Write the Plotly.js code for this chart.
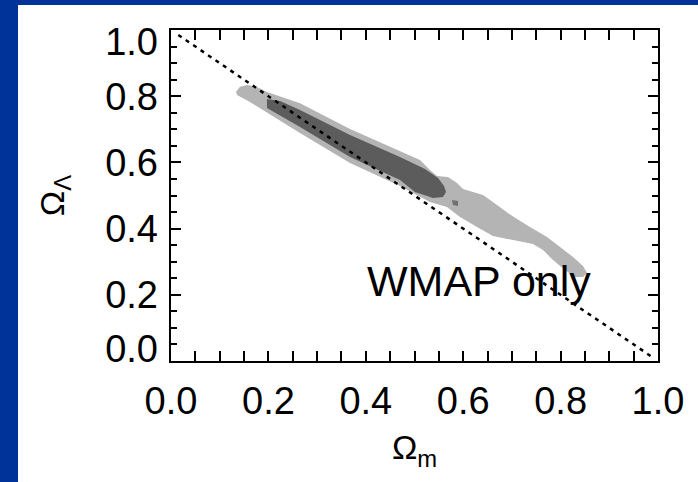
<!DOCTYPE html>
<html>
<head>
<meta charset="utf-8">
<script src="https://cdn.plot.ly/plotly-3.0.1.min.js"></script>
<style>
  html, body { margin:0; padding:0; background:#003399; width:698px; height:482px; overflow:hidden; }
  #chart { position:absolute; left:18px; top:5px; width:680px; height:477px; background:#ffffff; }
</style>
</head>
<body>
<div id="chart"></div>
<script>
// Tick labels
const xTickText = ['0.0','0.2','0.4','0.6','0.8','1.0'];
const xTickVals = [0, 0.2, 0.4, 0.6, 0.8, 1.0];
const yTickText = ['0.0','0.2','0.4','0.6','0.8','1.0'];

// Outer (light grey) confidence region, Omega_m vs Omega_Lambda
const outerOm = [0.1335,0.1417,0.1561,0.1766,0.1971,0.2649,0.3676,0.4702,0.5113,0.5318,0.5462,0.5688,0.5873,0.5996,0.6407,0.6694,0.7023,0.7372,0.7721,0.7988,0.8255,0.8460,0.8542,
                 0.8460,0.8296,0.8090,0.7844,0.7639,0.7433,0.7023,0.6612,0.6283,0.5934,0.5667,0.5318,0.4702,0.3676,0.2649,0.1971,0.1622,0.1355];
const outerOl = [0.8136,0.8287,0.8338,0.8278,0.8127,0.7785,0.7009,0.6344,0.6073,0.5770,0.5589,0.5559,0.5378,0.5196,0.5015,0.4713,0.4363,0.4048,0.3746,0.3444,0.3142,0.2870,0.2659,
                 0.2538,0.2538,0.2749,0.3051,0.3353,0.3535,0.3656,0.3776,0.4048,0.4350,0.4653,0.4804,0.5287,0.5982,0.6888,0.7492,0.7825,0.8036];

// Inner (dark grey) confidence region
const innerOm = [0.1971,0.2238,0.2649,0.3676,0.4702,0.5216,0.5483,0.5606,0.5647,
                 0.5585,0.5380,0.5010,0.4702,0.3676,0.2649,0.2238,0.1971];
const innerOl = [0.7915,0.7855,0.7583,0.6828,0.6163,0.5801,0.5529,0.5287,0.5106,
                 0.4955,0.4924,0.5106,0.5468,0.6163,0.7069,0.7402,0.7644];

// small inner island
const islandOm = [0.5770,0.5893,0.5893,0.5791];
const islandOl = [0.4864,0.4834,0.4683,0.4713];

// flat universe line Omega_m + Omega_Lambda = 1
const flatOm = [0.015, 0.99];
const flatOl = [0.985, 0.01];

const label = 'WMAP only';

const traces = [
  {x: outerOm, y: outerOl, type:'scatter', mode:'lines', fill:'toself', fillcolor:'#b4b4b4', line:{width:0, color:'#b4b4b4'}, hoverinfo:'skip', showlegend:false},
  {x: innerOm, y: innerOl, type:'scatter', mode:'lines', fill:'toself', fillcolor:'#5c5c5c', line:{width:0, color:'#5c5c5c'}, hoverinfo:'skip', showlegend:false},
  {x: islandOm, y: islandOl, type:'scatter', mode:'lines', fill:'toself', fillcolor:'#707070', line:{width:0, color:'#707070'}, hoverinfo:'skip', showlegend:false},
  {x: flatOm, y: flatOl, type:'scatter', mode:'lines', line:{color:'#000000', width:2.5, dash:'4px,5px'}, hoverinfo:'skip', showlegend:false},
  {x: [null], y: [null], yaxis:'y2', type:'scatter', mode:'lines', showlegend:false, hoverinfo:'skip'}
];

const font = {family:'Liberation Sans, Arial, sans-serif', color:'#000000'};

const layout = {
  width: 680, height: 477,
  margin: {l:153, r:40, t:25, b:121, pad:0},
  paper_bgcolor:'#ffffff', plot_bgcolor:'#ffffff',
  showlegend:false,
  font: font,
  xaxis: {
    range:[0,1], showgrid:false, zeroline:false,
    showline:true, linecolor:'#000', linewidth:2, mirror:'allticks',
    ticks:'inside', ticklen:10, tickwidth:2, tickcolor:'#000',
    tickvals: xTickVals, ticktext: xTickText,
    ticklabelstandoff: 5,
    tickfont: {family:font.family, size:38, color:'#000'},
    minor: {dtick:0.05, ticks:'inside', ticklen:6, tickwidth:2, tickcolor:'#000', showgrid:false},
    title: {text:'Ω<sub>m</sub>', font:{family:font.family, size:34, color:'#000'}, standoff:15}
  },
  yaxis: {
    range:[0,1], showgrid:false, zeroline:false,
    showline:true, linecolor:'#000', linewidth:2, mirror:'allticks',
    ticks:'inside', ticklen:10, tickwidth:2, tickcolor:'#000',
    tickvals: xTickVals, showticklabels:false,
    minor: {dtick:0.05, ticks:'inside', ticklen:6, tickwidth:2, tickcolor:'#000', showgrid:false}
  },
  yaxis2: {
    overlaying:'y', anchor:'x', side:'left', range:[0,1],
    showgrid:false, zeroline:false, showline:false, ticks:'',
    tickvals:[0.038, 0.2, 0.4, 0.6, 0.8, 0.964], ticktext: yTickText,
    ticklabelstandoff: 12,
    tickfont: {family:font.family, size:38, color:'#000'},
    title: {text:'Ω<sub>Λ</sub>', font:{family:font.family, size:34, color:'#000'}, standoff:30}
  },
  annotations: [
    {x:0.398, y:0.2417, xref:'x', yref:'y', text:label, showarrow:false, xanchor:'left', yanchor:'middle',
     font:{family:font.family, size:43, color:'#000'}}
  ]
};

Plotly.newPlot('chart', traces, layout, {staticPlot:true, displayModeBar:false});
</script>
</body>
</html>
